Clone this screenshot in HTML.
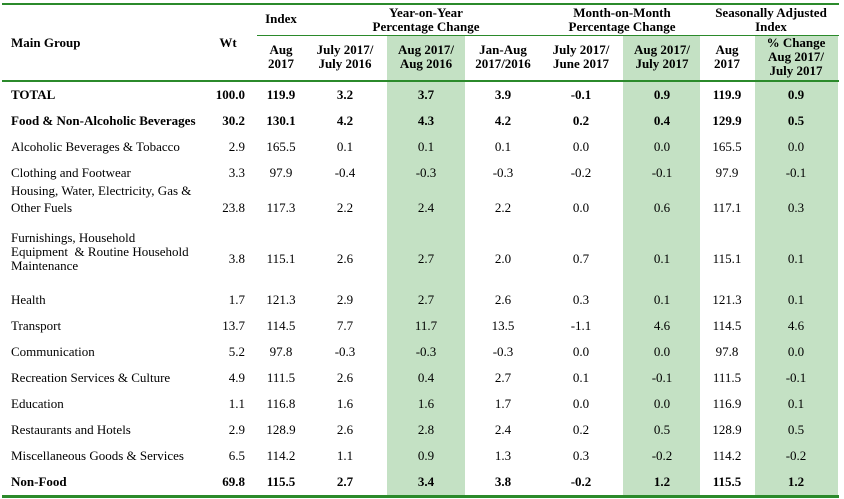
<!DOCTYPE html>
<html><head><meta charset="utf-8"><style>
body{margin:0;width:844px;height:499px;background:#fff;position:relative;overflow:hidden;font-family:"Liberation Serif",serif;font-size:13px;color:#000}
div{position:absolute}
.sh{background:#c4e1c4;top:36px;height:459px}
.ln{background:#2b8a2b;left:2px;width:837px}
.r{left:0;width:844px;height:14px;line-height:14px}
.r span{position:absolute;width:80px;text-align:center;top:0}
.r span.l{left:11px;width:200px;text-align:left}
.r span.w{left:195px;width:50px;text-align:right}
.c1{left:241px}.c2{left:305px}.c3{left:386px}.c4{left:463px}.c5{left:541px}.c6{left:622px}.c7{left:687px}.c8{left:756px}
.b{font-weight:bold}
.h{text-align:center;font-weight:bold;line-height:14px}
</style></head><body>
<div class="sh" style="left:387px;width:78px"></div>
<div class="sh" style="left:623px;width:77px"></div>
<div class="sh" style="left:755px;width:83px"></div>
<div class="ln" style="top:3px;height:2px"></div>
<div style="left:257px;width:582px;top:35px;height:1px;background:#2b8a2b"></div>
<div class="ln" style="top:80px;height:2px"></div>
<div class="ln" style="top:495px;height:3px"></div>

<div class="h" style="left:11px;top:36px">Main Group</div>
<div class="h" style="left:203px;width:50px;top:36px">Wt</div>
<div class="h" style="left:241px;width:80px;top:12px">Index</div>
<div class="h" style="left:336px;width:180px;top:6px">Year-on-Year<br>Percentage Change</div>
<div class="h" style="left:532px;width:180px;top:6px">Month-on-Month<br>Percentage Change</div>
<div class="h" style="left:696px;width:150px;top:6px">Seasonally Adjusted<br>Index</div>
<div class="h" style="left:241px;width:80px;top:43px">Aug<br>2017</div>
<div class="h" style="left:305px;width:80px;top:43px">July 2017/<br>July 2016</div>
<div class="h" style="left:386px;width:80px;top:43px">Aug 2017/<br>Aug 2016</div>
<div class="h" style="left:463px;width:80px;top:43px">Jan-Aug<br>2017/2016</div>
<div class="h" style="left:541px;width:80px;top:43px">July 2017/<br>June 2017</div>
<div class="h" style="left:622px;width:80px;top:43px">Aug 2017/<br>July 2017</div>
<div class="h" style="left:687px;width:80px;top:43px">Aug<br>2017</div>
<div class="h" style="left:756px;width:80px;top:36px">% Change<br>Aug 2017/<br>July 2017</div>

<div class="r b" style="top:88px"><span class="l">TOTAL</span><span class="w">100.0</span><span class="c1">119.9</span><span class="c2">3.2</span><span class="c3">3.7</span><span class="c4">3.9</span><span class="c5">-0.1</span><span class="c6">0.9</span><span class="c7">119.9</span><span class="c8">0.9</span></div>
<div class="r b" style="top:114px"><span class="l">Food &amp; Non-Alcoholic Beverages</span><span class="w">30.2</span><span class="c1">130.1</span><span class="c2">4.2</span><span class="c3">4.3</span><span class="c4">4.2</span><span class="c5">0.2</span><span class="c6">0.4</span><span class="c7">129.9</span><span class="c8">0.5</span></div>
<div class="r" style="top:140px"><span class="l">Alcoholic Beverages &amp; Tobacco</span><span class="w">2.9</span><span class="c1">165.5</span><span class="c2">0.1</span><span class="c3">0.1</span><span class="c4">0.1</span><span class="c5">0.0</span><span class="c6">0.0</span><span class="c7">165.5</span><span class="c8">0.0</span></div>
<div class="r" style="top:166px"><span class="l">Clothing and Footwear</span><span class="w">3.3</span><span class="c1">97.9</span><span class="c2">-0.4</span><span class="c3">-0.3</span><span class="c4">-0.3</span><span class="c5">-0.2</span><span class="c6">-0.1</span><span class="c7">97.9</span><span class="c8">-0.1</span></div>
<div class="r" style="top:184px"><span class="l">Housing, Water, Electricity, Gas &amp;</span></div>
<div class="r" style="top:201px"><span class="l">Other Fuels</span><span class="w">23.8</span><span class="c1">117.3</span><span class="c2">2.2</span><span class="c3">2.4</span><span class="c4">2.2</span><span class="c5">0.0</span><span class="c6">0.6</span><span class="c7">117.1</span><span class="c8">0.3</span></div>
<div class="r" style="top:231px"><span class="l">Furnishings, Household</span></div>
<div class="r" style="top:245px"><span class="l">Equipment &nbsp;&amp; Routine Household</span></div>
<div class="r" style="top:259px"><span class="l">Maintenance</span></div>
<div class="r" style="top:252px"><span class="w">3.8</span><span class="c1">115.1</span><span class="c2">2.6</span><span class="c3">2.7</span><span class="c4">2.0</span><span class="c5">0.7</span><span class="c6">0.1</span><span class="c7">115.1</span><span class="c8">0.1</span></div>
<div class="r" style="top:293px"><span class="l">Health</span><span class="w">1.7</span><span class="c1">121.3</span><span class="c2">2.9</span><span class="c3">2.7</span><span class="c4">2.6</span><span class="c5">0.3</span><span class="c6">0.1</span><span class="c7">121.3</span><span class="c8">0.1</span></div>
<div class="r" style="top:319px"><span class="l">Transport</span><span class="w">13.7</span><span class="c1">114.5</span><span class="c2">7.7</span><span class="c3">11.7</span><span class="c4">13.5</span><span class="c5">-1.1</span><span class="c6">4.6</span><span class="c7">114.5</span><span class="c8">4.6</span></div>
<div class="r" style="top:345px"><span class="l">Communication</span><span class="w">5.2</span><span class="c1">97.8</span><span class="c2">-0.3</span><span class="c3">-0.3</span><span class="c4">-0.3</span><span class="c5">0.0</span><span class="c6">0.0</span><span class="c7">97.8</span><span class="c8">0.0</span></div>
<div class="r" style="top:371px"><span class="l">Recreation Services &amp; Culture</span><span class="w">4.9</span><span class="c1">111.5</span><span class="c2">2.6</span><span class="c3">0.4</span><span class="c4">2.7</span><span class="c5">0.1</span><span class="c6">-0.1</span><span class="c7">111.5</span><span class="c8">-0.1</span></div>
<div class="r" style="top:397px"><span class="l">Education</span><span class="w">1.1</span><span class="c1">116.8</span><span class="c2">1.6</span><span class="c3">1.6</span><span class="c4">1.7</span><span class="c5">0.0</span><span class="c6">0.0</span><span class="c7">116.9</span><span class="c8">0.1</span></div>
<div class="r" style="top:423px"><span class="l">Restaurants and Hotels</span><span class="w">2.9</span><span class="c1">128.9</span><span class="c2">2.6</span><span class="c3">2.8</span><span class="c4">2.4</span><span class="c5">0.2</span><span class="c6">0.5</span><span class="c7">128.9</span><span class="c8">0.5</span></div>
<div class="r" style="top:449px"><span class="l">Miscellaneous Goods &amp; Services</span><span class="w">6.5</span><span class="c1">114.2</span><span class="c2">1.1</span><span class="c3">0.9</span><span class="c4">1.3</span><span class="c5">0.3</span><span class="c6">-0.2</span><span class="c7">114.2</span><span class="c8">-0.2</span></div>
<div class="r b" style="top:475px"><span class="l">Non-Food</span><span class="w">69.8</span><span class="c1">115.5</span><span class="c2">2.7</span><span class="c3">3.4</span><span class="c4">3.8</span><span class="c5">-0.2</span><span class="c6">1.2</span><span class="c7">115.5</span><span class="c8">1.2</span></div>
</body></html>
